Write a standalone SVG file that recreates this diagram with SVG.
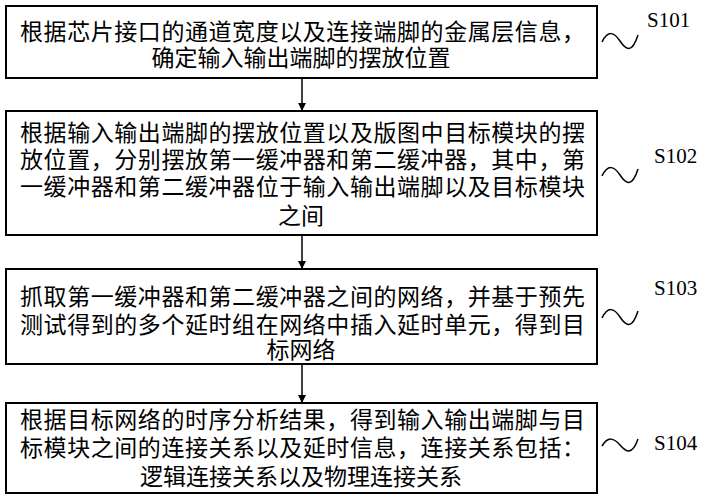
<svg xmlns="http://www.w3.org/2000/svg" width="706" height="500" viewBox="0 0 706 500">
<defs>
<marker id="ah" viewBox="0 0 10 10" refX="10" refY="5" markerWidth="8" markerHeight="10" orient="auto" markerUnits="userSpaceOnUse"><path d="M0,0 L10,5 L0,10 Z" fill="#000"/></marker>
<style>
.box{fill:#fff;stroke:#000;stroke-width:2}
.t{font-family:"Liberation Serif","Noto Sans CJK SC",serif;font-size:23px;fill:#000}
.c{text-anchor:middle}
.lab{font-family:"Liberation Serif",serif;font-size:21px;fill:#000}
.sq{fill:none;stroke:#000;stroke-width:1.5}
.ln{stroke:#000;stroke-width:1.5;fill:none}
</style>
</defs>
<rect width="706" height="500" fill="#fff"/>
<g id="n1"><rect class="box" x="6" y="6" width="591" height="72"/>
<text class="t" x="20" y="40" textLength="565">根据芯片接口的通道宽度以及连接端脚的金属层信息，</text>
<text class="t c" x="301" y="66">确定输入输出端脚的摆放位置</text></g>
<g id="n2"><rect class="box" x="6" y="111" width="591" height="124"/>
<text class="t" x="20" y="141" textLength="565">根据输入输出端脚的摆放位置以及版图中目标模块的摆</text>
<text class="t" x="20" y="168" textLength="565">放位置，分别摆放第一缓冲器和第二缓冲器，其中，第</text>
<text class="t" x="20" y="195" textLength="565">一缓冲器和第二缓冲器位于输入输出端脚以及目标模块</text>
<text class="t c" x="301" y="224">之间</text></g>
<g id="n3"><rect class="box" x="6" y="269" width="591" height="95"/>
<text class="t" x="20" y="305" textLength="565">抓取第一缓冲器和第二缓冲器之间的网络，并基于预先</text>
<text class="t" x="20" y="333" textLength="565">测试得到的多个延时组在网络中插入延时单元，得到目</text>
<text class="t c" x="301" y="358">标网络</text></g>
<g id="n4"><rect class="box" x="6" y="403" width="591" height="90"/>
<text class="t" x="20" y="428" textLength="565">根据目标网络的时序分析结果，得到输入输出端脚与目</text>
<text class="t" x="20" y="456" textLength="565">标模块之间的连接关系以及延时信息，连接关系包括：</text>
<text class="t c" x="301" y="485">逻辑连接关系以及物理连接关系</text></g>
<g id="labels">
<text class="lab" x="647" y="27">S101</text>
<text class="lab" x="654" y="163">S102</text>
<text class="lab" x="654" y="295">S103</text>
<text class="lab" x="654" y="450">S104</text>
<path class="sq" d="M602,42 C608,30 614,32 620,41 S632,54 638,35"/>
<path class="sq" d="M602,176 C608,164 614,166 620,175 S632,188 638,169"/>
<path class="sq" d="M602,318 C608,306 614,308 620,317 S632,330 638,311"/>
<path class="sq" d="M602,446 C608,436 614,438 620,445 S632,456 638,439"/>
</g>
<g id="connectors">
<line class="ln" x1="302" y1="78" x2="302" y2="111" marker-end="url(#ah)"/>
<line class="ln" x1="302" y1="235" x2="302" y2="269" marker-end="url(#ah)"/>
<line class="ln" x1="302" y1="364" x2="302" y2="403" marker-end="url(#ah)"/>
</g>
</svg>
